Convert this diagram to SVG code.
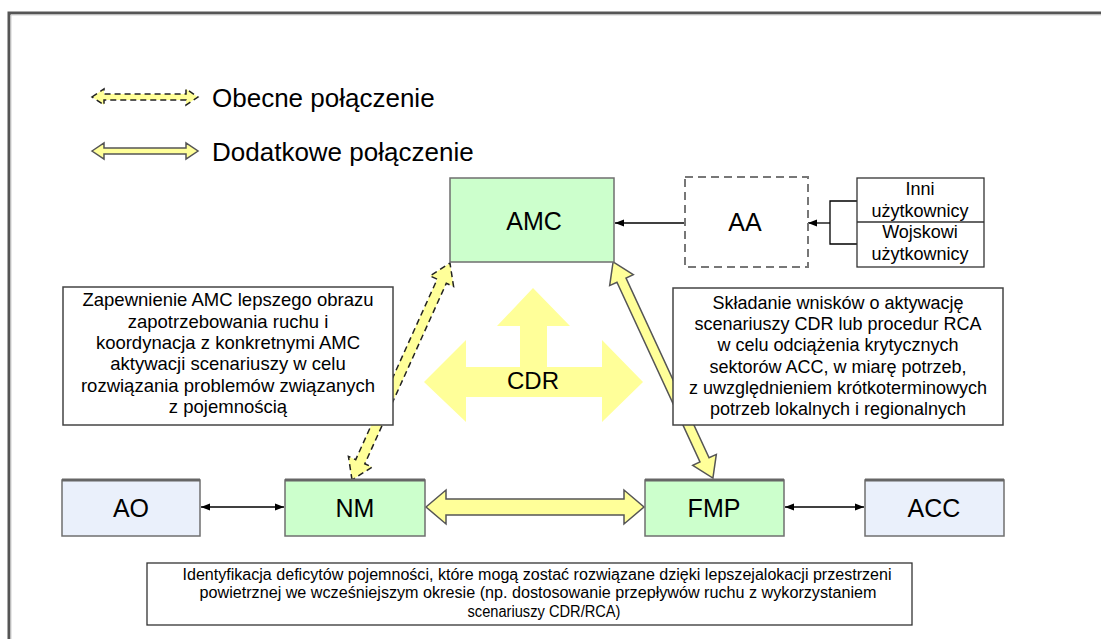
<svg xmlns="http://www.w3.org/2000/svg" width="1101" height="639" viewBox="0 0 1101 639">
  <defs>
    <style>
      .t { font-family: "Liberation Sans", Arial, sans-serif; fill: #000; }
      .lbl { font-size: 25px; text-anchor: middle; }
      .note { font-size: 18.5px; text-anchor: middle; }
      .note-r { font-size: 18px; text-anchor: middle; }
      .narrow { font-family: "Liberation Sans Narrow", "Liberation Sans", Arial, sans-serif; font-size: 16px; text-anchor: middle; }
      .green { fill: #ccffcc; stroke: #6f6f6f; stroke-width: 1.5; }
      .blue { fill: #eaf0fb; stroke: #6f6f6f; stroke-width: 1.5; }
      .textbox { fill: #ffffff; stroke: #444; stroke-width: 1.5; }
      .thin { stroke: #000; stroke-width: 1.3; fill: none; }
      .yel { fill: #ffff99; }
      .yel-solid { fill: #ffff99; stroke: #555; stroke-width: 1.5; stroke-linejoin: miter; }
      .yel-dash { fill: #ffff99; stroke: #222; stroke-width: 1.5; stroke-dasharray: 6 4; }
    </style>
    <marker id="ah" viewBox="0 0 10 10" refX="10" refY="5" markerWidth="9" markerHeight="9" markerUnits="userSpaceOnUse" orient="auto-start-reverse">
      <path d="M0,1 L10,5 L0,9 Z" fill="#000"/>
    </marker>
  </defs>

  <rect width="1101" height="639" fill="#ffffff"/>

  <!-- page frame -->
  <path d="M9,639 V13 H1101" fill="none" stroke="#555" stroke-width="3"/>
  <path d="M11,639 V15 H1101" fill="none" stroke="#cfcfcf" stroke-width="1"/>

  <!-- legend -->
  <g id="legend">
    <path class="yel-dash" d="M92,97 L104,89 L104,94 L186,94 L186,89 L198,97 L186,105 L186,100 L104,100 L104,105 Z"/>
    <text class="t" x="212" y="107" font-size="26">Obecne połączenie</text>
    <path class="yel-solid" d="M92,151 L104,143 L104,148 L186,148 L186,143 L198,151 L186,159 L186,154 L104,154 L104,159 Z"/>
    <text class="t" x="212" y="161" font-size="26">Dodatkowe połączenie</text>
  </g>

  <!-- connectors -->
  <g id="connectors">
    <!-- AMC <-> NM (current link) -->
    <path class="yel-dash" transform="translate(401,371.5) rotate(-65.7)" d="M-119,0 L-99,-13 L-99,-5 L99,-5 L99,-13 L119,0 L99,13 L99,5 L-99,5 L-99,13 Z"/>
    <!-- AMC <-> FMP (additional link) -->
    <path class="yel-solid" transform="translate(663,370) rotate(65.2)" d="M-119,0 L-99,-13 L-99,-5 L99,-5 L99,-13 L119,0 L99,13 L99,5 L-99,5 L-99,13 Z"/>
    <!-- NM <-> FMP -->
    <path class="yel-solid" d="M426,507 L446,490 L446,499 L624,499 L624,490 L644,507 L624,524 L624,515 L446,515 L446,524 Z"/>
    <!-- AA -> AMC -->
    <line class="thin" x1="685" y1="223" x2="615" y2="223" marker-end="url(#ah)"/>
    <!-- users -> AA -->
    <path class="thin" d="M857,201 H830 V244 H857"/>
    <line class="thin" x1="830" y1="223" x2="808" y2="223" marker-end="url(#ah)"/>
    <!-- AO <-> NM -->
    <line class="thin" x1="201" y1="507" x2="284" y2="507" marker-start="url(#ah)" marker-end="url(#ah)"/>
    <!-- FMP <-> ACC -->
    <line class="thin" x1="785" y1="507" x2="864" y2="507" marker-start="url(#ah)" marker-end="url(#ah)"/>
  </g>

  <!-- CDR -->
  <g id="cdr">
    <path class="yel" d="M533,288 L570,326 L547,326 L547,367 L602,367 L602,340 L643,382 L602,422 L602,397 L466,397 L466,422 L424,382 L466,340 L466,367 L520,367 L520,326 L497,326 Z"/>
    <text class="t" x="533" y="389" font-size="24" text-anchor="middle">CDR</text>
  </g>

  <g id="amc">
    <rect class="green" x="450" y="178" width="164" height="84"/>
    <text class="t lbl" x="534" y="230">AMC</text>
  </g>

  <g id="aa">
    <rect x="685" y="177" width="123" height="90" fill="#fff" stroke="#777" stroke-width="2" stroke-dasharray="8 5"/>
    <text class="t lbl" x="745" y="231">AA</text>
  </g>

  <g id="users">
    <rect x="857" y="178" width="127" height="89" fill="#fff" stroke="#333" stroke-width="1.3"/>
    <line x1="857" y1="222" x2="984" y2="222" stroke="#333" stroke-width="1.3"/>
    <text class="t" x="920" y="195" font-size="18" text-anchor="middle">Inni</text>
    <text class="t" x="920" y="217" font-size="18" text-anchor="middle">użytkownicy</text>
    <text class="t" x="920" y="238" font-size="18" text-anchor="middle">Wojskowi</text>
    <text class="t" x="920" y="260" font-size="18" text-anchor="middle">użytkownicy</text>
  </g>

  <g id="note-left">
    <rect class="textbox" x="63" y="287" width="330" height="138"/>
    <text class="t note" x="228" y="306">Zapewnienie AMC lepszego obrazu</text>
    <text class="t note" x="228" y="328">zapotrzebowania ruchu i</text>
    <text class="t note" x="228" y="349">koordynacja z konkretnymi AMC</text>
    <text class="t note" x="228" y="370">aktywacji scenariuszy w celu</text>
    <text class="t note" x="228" y="392">rozwiązania problemów związanych</text>
    <text class="t note" x="228" y="413">z pojemnością</text>
  </g>

  <g id="note-right">
    <rect class="textbox" x="673" y="288" width="330" height="137"/>
    <text class="t note-r" x="838" y="309">Składanie wnisków o aktywację</text>
    <text class="t note-r" x="838" y="330">scenariuszy CDR lub procedur RCA</text>
    <text class="t note-r" x="838" y="351">w celu odciążenia krytycznych</text>
    <text class="t note-r" x="838" y="373">sektorów ACC, w miarę potrzeb,</text>
    <text class="t note-r" x="838" y="394">z uwzględnieniem krótkoterminowych</text>
    <text class="t note-r" x="838" y="415">potrzeb lokalnych i regionalnych</text>
  </g>

  <g id="ao">
    <rect class="blue" x="62" y="480" width="138" height="56"/>
    <line x1="62" y1="480" x2="200" y2="480" stroke="#666" stroke-width="3"/>
    <text class="t lbl" x="131" y="517">AO</text>
  </g>

  <g id="nm">
    <rect class="green" x="285" y="480" width="140" height="56"/>
    <line x1="285" y1="480" x2="425" y2="480" stroke="#666" stroke-width="3"/>
    <text class="t lbl" x="355" y="517">NM</text>
  </g>

  <g id="fmp">
    <rect class="green" x="645" y="480" width="139" height="56"/>
    <line x1="645" y1="480" x2="784" y2="480" stroke="#666" stroke-width="3"/>
    <text class="t lbl" x="714" y="517">FMP</text>
  </g>

  <g id="acc">
    <rect class="blue" x="865" y="480" width="139" height="56"/>
    <line x1="865" y1="480" x2="1004" y2="480" stroke="#666" stroke-width="3"/>
    <text class="t lbl" x="934" y="517">ACC</text>
  </g>

  <g id="note-bottom">
    <rect x="147" y="563" width="765" height="62" fill="#fff" stroke="#333" stroke-width="1.3"/>
    <text class="t narrow" x="537" y="580" textLength="709" lengthAdjust="spacingAndGlyphs">Identyfikacja deficytów pojemności, które mogą zostać rozwiązane dzięki lepszejalokacji przestrzeni</text>
    <text class="t narrow" x="538" y="598" textLength="677" lengthAdjust="spacingAndGlyphs">powietrznej we  wcześniejszym okresie (np. dostosowanie przepływów ruchu z wykorzystaniem</text>
    <text class="t narrow" x="544" y="617" textLength="153" lengthAdjust="spacingAndGlyphs">scenariuszy CDR/RCA)</text>
  </g>
</svg>
